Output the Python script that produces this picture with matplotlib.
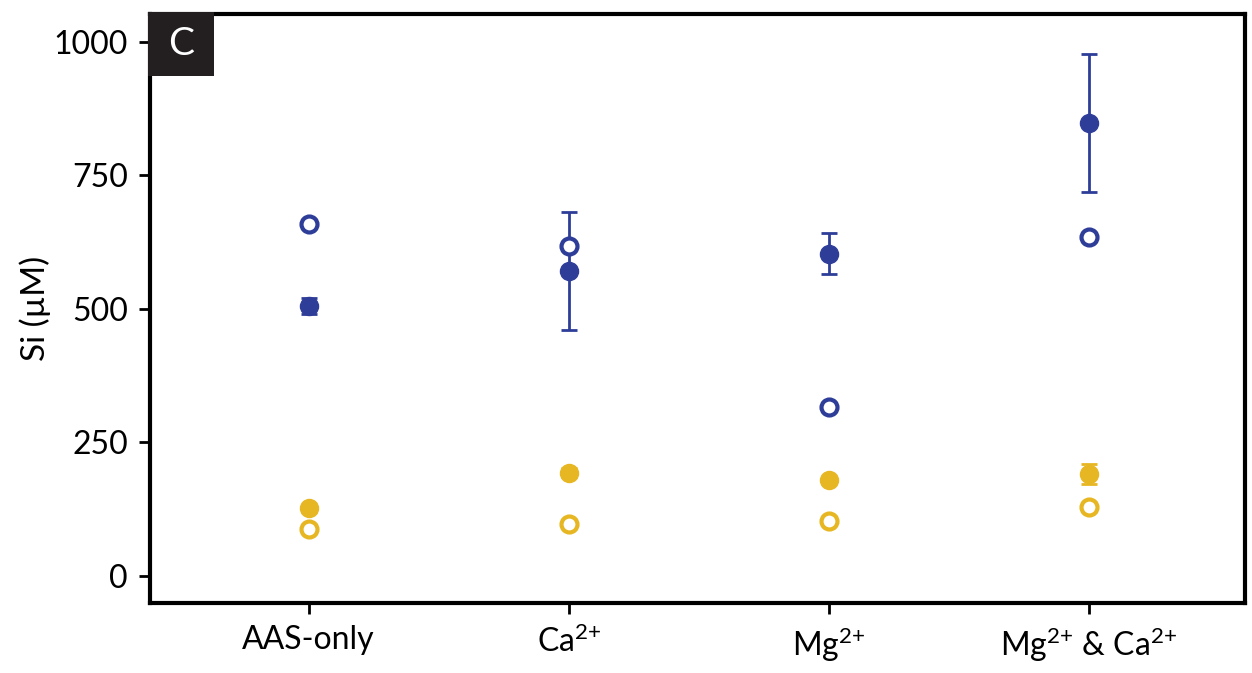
import matplotlib
matplotlib.use("Agg")
import matplotlib.pyplot as plt
from matplotlib.patches import Rectangle

categories = ["AAS-only", "Ca$^{2{+}}$", "Mg$^{2{+}}$", "Mg$^{2{+}}$ & Ca$^{2{+}}$"]
blue_filled = [506, 571, 603, 848]
blue_filled_err = [15, 111, 38, 130]
blue_open = [659, 618, 316, 635]
yellow_filled = [126, 193, 179, 191]
yellow_filled_err = [6, 8, 5, 19]
yellow_open = [88, 97, 103, 129]
yticks = [0, 250, 500, 750, 1000]

BLUE = "#2E3D98"
YELLOW = "#E7B723"

plt.rcParams['font.family'] = ['Lato', 'DejaVu Sans']
plt.rcParams['mathtext.fontset'] = 'custom'
plt.rcParams['mathtext.rm'] = 'Lato'
plt.rcParams['mathtext.it'] = 'Lato'
plt.rcParams['mathtext.default'] = 'regular'

fig = plt.figure(figsize=(12.52, 6.73), dpi=100)
ax = fig.add_axes([150/1252, 1-603/673, (1245-150)/1252, (603-14)/673])

x = list(range(1, len(categories)+1))

ax.errorbar(x, blue_filled, yerr=blue_filled_err, fmt='o', color=BLUE, ms=13,
            elinewidth=2, capsize=6, capthick=2, zorder=3)
ax.plot(x, blue_open, 'o', mfc='white', mec=BLUE, ms=11.5, mew=3, zorder=3)
ax.errorbar(x, yellow_filled, yerr=yellow_filled_err, fmt='o', color=YELLOW, ms=13,
            elinewidth=2, capsize=6, capthick=2, zorder=3)
ax.plot(x, yellow_open, 'o', mfc='white', mec=YELLOW, ms=11.5, mew=3, zorder=3)

ax.set_xlim(0.39, 4.6)
ax.set_ylim(-51, 1052)
ax.set_xticks(x)
ax.set_xticklabels(categories, fontsize=23)
ax.set_yticks(yticks)
ax.set_yticklabels([str(v) for v in yticks], fontsize=23)
ax.set_ylabel("Si (µM)", fontsize=24, labelpad=2)
for s in ax.spines.values():
    s.set_linewidth(3)
ax.tick_params(axis='both', direction='out', length=8, width=2, pad=8)

# panel label box
bx0, by_top, bw, bh = 148/1252, 1-12/673, 66/1252, 64/673
fig.patches.append(Rectangle((bx0, by_top-bh), bw, bh, transform=fig.transFigure,
                             fc='#231F20', ec='none', zorder=10))
fig.text(bx0+bw/2, by_top-bh/2, "C", ha='center', va='center', fontsize=28,
         color='white', zorder=11)

fig.savefig("out.png", dpi=100)
